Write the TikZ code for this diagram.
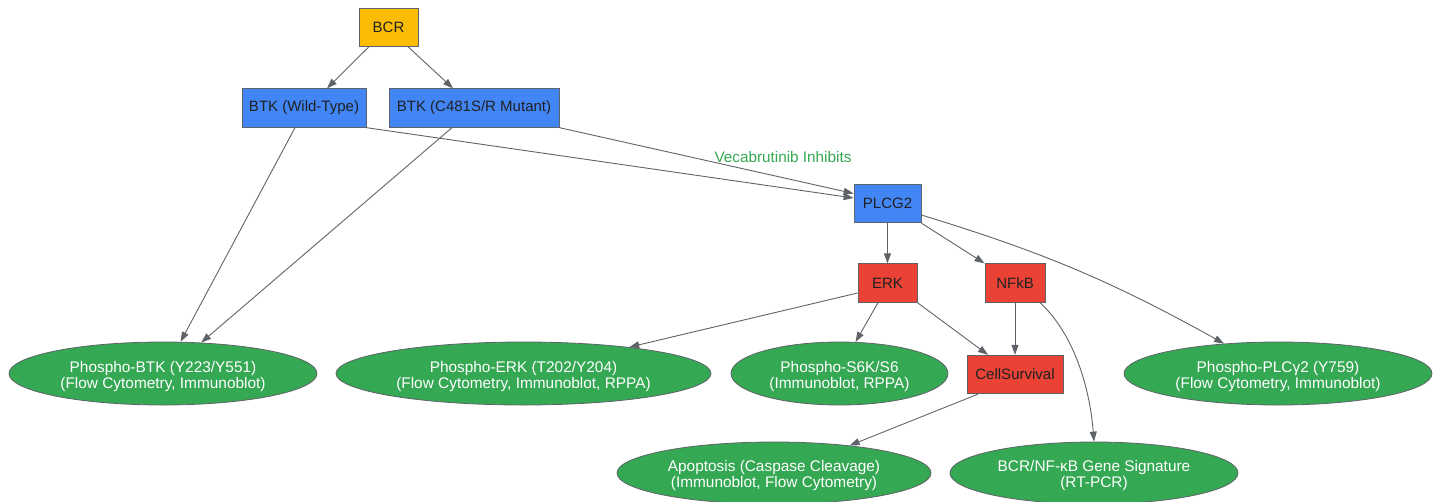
\documentclass[tikz,border=0pt]{standalone}
\usepackage{fontspec}
\setmainfont{Liberation Sans}
\usepackage{tikz}
\usetikzlibrary{arrows.meta}
\usetikzlibrary{shapes.geometric}
\usetikzlibrary{positioning}
\definecolor{myellow}{HTML}{FBBC05}
\definecolor{mblue}{HTML}{4285F4}
\definecolor{mred}{HTML}{EA4335}
\definecolor{mgreen}{HTML}{34A853}
\definecolor{mgray}{HTML}{5F6368}
\definecolor{mtext}{HTML}{202124}
\tikzset{box/.style = {draw = mgray, line width = 0.8pt, text = mtext, inner sep = 3pt, minimum height = 38.5pt, font = \fontsize{15}{17}\selectfont}}
\tikzset{oval/.style = {ellipse, draw = mgray, line width = 0.8pt, fill = mgreen, text = white, align = center, inner sep = 0, text height = 33pt, minimum height = 63pt, font = \fontsize{15.4}{16}\selectfont}}
\tikzset{edge/.style = {draw = mgray, line width = 0.9pt, -{Triangle[length = 10pt, width = 7pt]}}}
\tikzset{lbl/.style = {text = mgreen, inner sep = 0, font = \fontsize{15.3}{17}\selectfont}}

\begin{document}
\begin{tikzpicture}[x = 1pt, y = -1pt]
      \useasboundingbox (0, 0) rectangle (1440, 501);
      % kinases
      \node [box, fill=myellow, minimum width=59pt] (bcr) at (388.5, 27.5) {BCR};
      \node [box, fill=mblue, minimum width=124pt] (btkwt) at (304, 108) {BTK (Wild-Type)};
      \node [box, fill=mblue, minimum width=170pt] (btkmut) at (474, 108) {BTK (C481S/R Mutant)};
      \node [box, fill=mblue, minimum width=67pt] (plcg) at (887.5, 203.5) {PLCG2};
      \node [box, fill=mred, minimum width=59pt] (erk) at (887.5, 283) {ERK};
      \node [box, fill=mred, minimum width=60pt] (nfkb) at (1015, 283) {NFkB};
      \node [box, fill=mred, minimum width=96pt] (surv) at (1015, 374.5) {CellSurvival};
      % readouts
      \node [oval, minimum width=308pt] (pbtk) at (163, 373.5) {Phospho-BTK (Y223/Y551)\\(Flow Cytometry, Immunoblot)};
      \node [oval, minimum width=375pt] (perk) at (523.5, 373.5) {Phospho-ERK (T202/Y204)\\(Flow Cytometry, Immunoblot, RPPA)};
      \node [oval, minimum width=217pt] (ps6) at (839.5, 373.5) {Phospho-S6K/S6\\(Immunoblot, RPPA)};
      \node [oval, minimum width=308pt] (pplc) at (1278, 373.5) {Phospho-PLCγ2 (Y759)\\(Flow Cytometry, Immunoblot)};
      \node [oval, minimum width=314pt, minimum height=62pt] (apop) at (774, 473) {Apoptosis (Caspase Cleavage)\\(Immunoblot, Flow Cytometry)};
      \node [oval, minimum width=288pt, minimum height=62pt] (gene) at (1094, 473) {BCR/NF-κB Gene Signature\\(RT-PCR)};
      % edges
      \draw [edge] ([xshift=-20pt]bcr.south) -- ([xshift=23pt]btkwt.north);
      \draw [edge] ([xshift=20pt]bcr.south) -- ([xshift=-21pt]btkmut.north);
      \draw [edge] ([xshift=-9pt]btkwt.south) -- (pbtk.61.5);
      \draw [edge] ([xshift=-22pt]btkmut.south) -- (pbtk.39);
      \draw [edge] (btkwt.south east) -- ([yshift=5.5pt]plcg.west);
      \draw [edge] (btkmut.south east) -- ([yshift=10pt]plcg.west)
        node [lbl, pos=0.76, yshift=21pt] {Vecabrutinib Inhibits};
      \draw [edge] (plcg.south) -- (erk.north);
      \draw [edge] (plcg.south east) -- (nfkb.north west);
      \draw [edge] ([yshift=-11.5pt]plcg.east) to [bend left=6] (pplc.151.5);
      \draw [edge] ([yshift=-10pt]erk.west) -- (perk.14.6);
      \draw [edge] ([xshift=-9.5pt]erk.south) -- (ps6.63.5);
      \draw [edge] (erk.south east) -- ([xshift=-27pt]surv.north);
      \draw [edge] (nfkb.south) -- (surv.north);
      \draw [edge] ([xshift=25pt]nfkb.south) .. controls (1075, 335) and (1090, 390) .. (gene.north);
      \draw [edge] ([xshift=-37pt]surv.south) -- (apop.20);
    \end{tikzpicture}
\end{document}
